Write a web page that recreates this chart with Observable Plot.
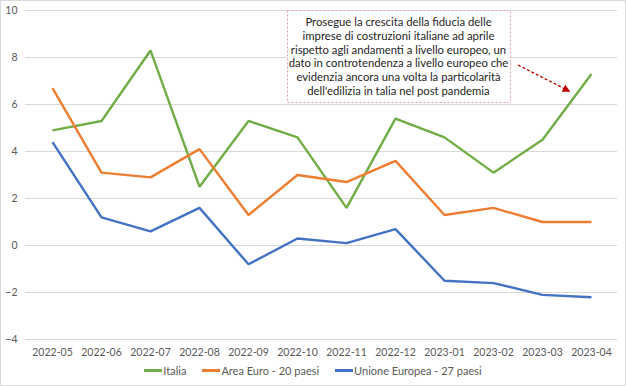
<!DOCTYPE html>
<html>
<head>
<meta charset="utf-8">
<script src="https://cdn.jsdelivr.net/npm/d3@7"></script>
<script src="https://cdn.jsdelivr.net/npm/@observablehq/plot@0.6"></script>
<style>
  html, body { margin: 0; padding: 0; background: #fff; }
  #wrap { position: relative; width: 626px; height: 386px; overflow: hidden; font-family: Lato, "Open Sans", sans-serif; }
  #border { position: absolute; left: 0; top: 0; width: 624px; height: 384px; border: 1px solid #d9d9d9; pointer-events: none; }
  #legend { position: absolute; left: 0; top: 364px; width: 626px; display: flex; justify-content: center; gap: 16px; font-size: 11px; color: #595959; }
  .item { display: flex; align-items: center; }
  .sw { width: 18px; height: 3px; margin-right: 1px; }
</style>
</head>
<body>
<div id="wrap"><div id="chart"></div><div id="legend"></div><div id="border"></div></div>
<script>
const months = ["2022-05","2022-06","2022-07","2022-08","2022-09","2022-10","2022-11","2022-12","2023-01","2023-02","2023-03","2023-04"];
const italia = [4.9, 5.3, 8.3, 2.5, 5.3, 4.6, 1.6, 5.4, 4.6, 3.1, 4.5, 7.3];
const areaEuro = [6.7, 3.1, 2.9, 4.1, 1.3, 3.0, 2.7, 3.6, 1.3, 1.6, 1.0, 1.0];
const ue27 = [4.4, 1.2, 0.6, 1.6, -0.8, 0.3, 0.1, 0.7, -1.5, -1.6, -2.1, -2.2];
const seriesNames = ["Italia", "Area Euro - 20 paesi", "Unione Europea - 27 paesi"];
const seriesColors = ["#70AD47", "#ED7D31", "#4472C4"];
const yTicks = [-4, -2, 0, 2, 4, 6, 8, 10];
const note = ["Prosegue la crescita della fiducia delle",
  "imprese di costruzioni italiane ad aprile",
  "rispetto agli andamenti a livello europeo, un",
  "dato in controtendenza a livello europeo che",
  "evidenzia ancora una volta la particolarità",
  "dell'edilizia in talia nel post pandemia"];

const seriesValues = [italia, areaEuro, ue27];
const data = [];
seriesNames.forEach((s, i) => months.forEach((m, j) => data.push({series: s, month: m, value: seriesValues[i][j]})));

const plot = Plot.plot({
  width: 626,
  height: 360,
  marginLeft: 25,
  marginRight: 9,
  marginTop: 10,
  marginBottom: 21,
  style: { fontFamily: "Lato, 'Open Sans', sans-serif", fontSize: "10.5px", color: "#595959", background: "#fff" },
  x: { type: "point", domain: months, padding: 0.5, label: null, tickSize: 0, tickPadding: 8 },
  y: { domain: [-4, 10], ticks: yTicks, label: null, tickSize: 0, tickPadding: 8 },
  color: { domain: seriesNames, range: seriesColors },
  marks: [
    Plot.gridY(yTicks, { stroke: "#d9d9d9", strokeOpacity: 1, strokeWidth: 1 }),
    Plot.axisY(yTicks, { tickSize: 0, tickPadding: 8, fill: "#595959" }),
    Plot.axisX({ tickSize: 0, tickPadding: 9, fill: "#595959" }),
    Plot.line(data, { x: "month", y: "value", z: "series", stroke: "series", strokeWidth: 2.4, strokeLinejoin: "miter", strokeLinecap: "butt" })
  ]
});
document.getElementById("chart").appendChild(plot);

// annotation box and arrow
const svg = d3.select(plot);
const defs = svg.append("defs");
defs.append("marker").attr("id", "ah").attr("viewBox", "0 0 10 10").attr("refX", 8).attr("refY", 5)
  .attr("markerWidth", 6).attr("markerHeight", 6).attr("orient", "auto")
  .append("path").attr("d", "M0,0 L10,5 L0,10 z").attr("fill", "#C00000");
const g = svg.append("g");
g.append("rect").attr("x", 287.5).attr("y", 10.5).attr("width", 223).attr("height", 92)
  .attr("fill", "#fff").attr("stroke", "#E6A0A8").attr("stroke-width", 1).attr("stroke-dasharray", "2,2");
note.forEach((t, i) => {
  g.append("text").attr("x", 398.5).attr("y", 26 + i * 13.8).attr("text-anchor", "middle")
    .attr("font-family", "Lato, 'Open Sans', sans-serif").attr("font-size", "11.3px").attr("fill", "#262626").text(t);
});
g.append("line").attr("x1", 518).attr("y1", 65).attr("x2", 569).attr("y2", 91)
  .attr("stroke", "#C00000").attr("stroke-width", 1.3).attr("stroke-dasharray", "3,2").attr("marker-end", "url(#ah)");

// legend
const legend = d3.select("#legend");
seriesNames.forEach((s, i) => {
  const it = legend.append("div").attr("class", "item");
  it.append("div").attr("class", "sw").style("background", seriesColors[i]);
  it.append("span").text(s);
});
</script>
</body>
</html>
